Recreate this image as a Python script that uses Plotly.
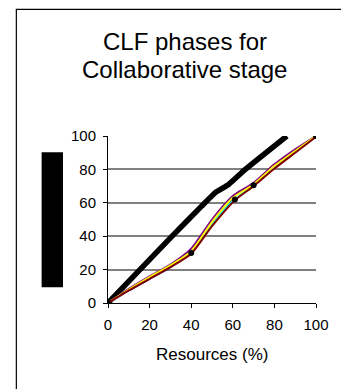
import plotly.graph_objects as go

# Black thick line (overall)
black_x = [0, 30, 45, 52, 58, 66, 86]
black_y = [0, 39, 58, 66.5, 71, 80, 100]

# Phase series (colored)
navy_x = [0, 10, 20, 30, 40, 50, 60, 63, 70, 80, 90, 100]
navy_y = [0, 7.5, 14.5, 21.5, 30, 47, 63, 66.5, 70.5, 81, 90.5, 100]
purple_x = [0, 10, 20, 30, 40, 50, 60, 70, 80, 90, 100]
purple_y = [0, 8.5, 16, 23, 32.5, 50, 64, 72, 83, 92, 100]
yellow_x = [0, 10, 20, 30, 40, 50, 60, 70, 80, 90, 100]
yellow_y = [0, 8, 15.5, 22.5, 31, 48.5, 63, 71, 82, 91, 100]
cyan_x = [0, 10, 20, 30, 40, 50, 58, 62, 70, 80, 90, 100]
cyan_y = [0, 8, 15, 22, 30, 47, 59, 63, 70.5, 81.5, 91, 100]
darkred_x = [0, 10, 20, 30, 40, 50, 61, 70, 80, 90, 100]
darkred_y = [0, 7.5, 14.5, 21.5, 29.5, 46, 61.5, 70, 80.5, 90, 99.5]

# Marker points
mark_x = [0, 40, 61, 70, 100]
mark_y = [0, 30, 62, 70.5, 100]

x_ticks = [0, 20, 40, 60, 80, 100]
y_ticks = [0, 20, 40, 60, 80, 100]

fig = go.Figure()
fig.add_trace(go.Scatter(x=black_x, y=black_y, mode="lines",
                         line=dict(color="black", width=5.5, shape="spline", smoothing=0.4)))
for xs, ys, col in [(navy_x, navy_y, "#000080"), (cyan_x, cyan_y, "#00FFFF"),
                    (purple_x, purple_y, "#800080"), (yellow_x, yellow_y, "#FFFF00"),
                    (darkred_x, darkred_y, "#800000")]:
    fig.add_trace(go.Scatter(x=xs, y=ys, mode="lines",
                             line=dict(color=col, width=2, shape="spline", smoothing=0.6)))
fig.add_trace(go.Scatter(x=mark_x, y=mark_y, mode="markers",
                         marker=dict(color="black", size=6)))

L, R, T, B = 108.3, 322.3, 135.7, 302.7
W, H = 341, 389
pw, ph = R - L, B - T

def px(x):
    return (x - L) / pw

def py(y):
    return (B - y) / ph

fig.update_layout(
    width=W, height=H, autosize=False,
    margin=dict(l=L, r=W - R, t=T, b=H - B, pad=0),
    paper_bgcolor="white", plot_bgcolor="white",
    showlegend=False,
    font=dict(family="Liberation Sans, Arial", color="black", size=15),
    xaxis=dict(range=[0, 100], tickvals=x_ticks, showgrid=False, zeroline=False,
               showline=True, linecolor="black", linewidth=1,
               ticks="outside", ticklen=4, tickcolor="black",
               tickfont=dict(size=15), ticklabelstandoff=4),
    yaxis=dict(range=[0, 100], tickvals=y_ticks, showgrid=True, gridcolor="#808080",
               gridwidth=1.5, zeroline=False,
               showline=True, linecolor="black", linewidth=1,
               ticks="outside", ticklen=4, tickcolor="black",
               tickfont=dict(size=15), ticklabelstandoff=4),
    shapes=[
        dict(type="rect", xref="paper", yref="paper", x0=px(14), x1=px(400),
             y0=py(450), y1=py(9), line=dict(color="black", width=1.2),
             fillcolor="rgba(0,0,0,0)", layer="below"),
        dict(type="rect", xref="paper", yref="paper", x0=px(40), x1=px(62),
             y0=py(287), y1=py(152), line=dict(width=0), fillcolor="black"),
    ],
    annotations=[
        dict(text="CLF phases for", xref="paper", yref="paper",
             x=px(188), y=py(41), xanchor="center", yanchor="middle",
             showarrow=False, font=dict(size=24)),
        dict(text="Collaborative stage", xref="paper", yref="paper",
             x=px(187.5), y=py(69.5), xanchor="center", yanchor="middle",
             showarrow=False, font=dict(size=24)),
        dict(text="Resources (%)", xref="paper", yref="paper",
             x=px(215), y=py(354), xanchor="center", yanchor="middle",
             showarrow=False, font=dict(size=17)),
    ],
)

fig.write_html("out.html", config={"displayModeBar": False},
               post_script="document.body.style.margin='0';")
